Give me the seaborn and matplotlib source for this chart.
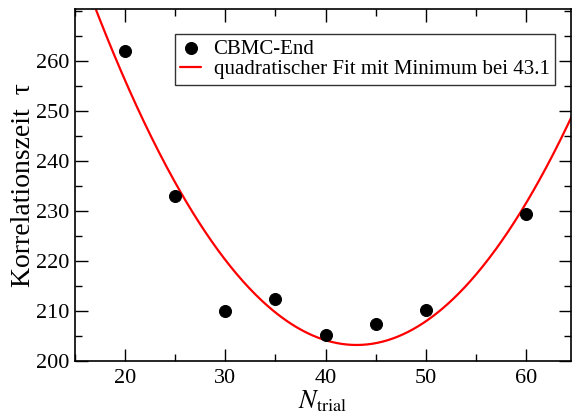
import numpy as np
import pandas as pd
import matplotlib
matplotlib.use("Agg")
import matplotlib.pyplot as plt
import seaborn as sns
from matplotlib.ticker import MultipleLocator, FixedLocator

# data
n_trial = [20, 25, 30, 35, 40, 45, 50, 60]
tau = [262.0, 233.0, 210.0, 212.3, 205.1, 207.4, 210.1, 229.3]
x_ticks = [20, 30, 40, 50, 60]
y_ticks = [200, 210, 220, 230, 240, 250, 260]
# quadratic fit parameters: tau = a*(N - N_min)^2 + tau_min
fit_a = 0.099
fit_nmin = 43.1
fit_taumin = 203.2

sns.set_theme(style="ticks")
plt.rcParams['font.family'] = ['Liberation Serif', 'DejaVu Serif']
plt.rcParams['mathtext.fontset'] = 'stix'
for k in ['text.color', 'axes.labelcolor', 'xtick.color', 'ytick.color',
          'xtick.labelcolor', 'ytick.labelcolor', 'axes.edgecolor']:
    plt.rcParams[k] = 'black'

fig = plt.figure(figsize=(5.72, 4.17), dpi=100)
ax = fig.add_axes([75/572, 1 - 361/417, (571-75)/572, (361-9)/417])

df = pd.DataFrame({"N": n_trial, "tau": tau})
xf = np.linspace(15, 65, 400)
df_fit = pd.DataFrame({"N": xf, "tau": fit_a * (xf - fit_nmin) ** 2 + fit_taumin})

sns.lineplot(data=df_fit, x="N", y="tau", ax=ax, color="#ff0000", lw=1.6,
             label="quadratischer Fit mit Minimum bei 43.1", zorder=2)
sns.scatterplot(data=df, x="N", y="tau", ax=ax, color="black", s=75,
                edgecolor="black", label="CBMC-End", zorder=3)

ax.set_xlim(15, 64.5)
ax.set_ylim(200, 270.3)
ax.xaxis.set_major_locator(FixedLocator(x_ticks))
ax.xaxis.set_minor_locator(MultipleLocator(5))
ax.yaxis.set_major_locator(FixedLocator(y_ticks))
ax.yaxis.set_minor_locator(MultipleLocator(5))
ax.tick_params(which='both', direction='in', top=True, right=True,
               labelsize=16, width=1, color='black', labelcolor='black')
ax.tick_params(axis='x', pad=6)
ax.tick_params(axis='y', pad=4)
ax.tick_params(which='major', length=9)
ax.tick_params(which='minor', length=5)
for s in ax.spines.values():
    s.set_linewidth(1.2)
    s.set_color('black')

ax.set_xlabel(r"$N_{\mathrm{trial}}$", fontsize=19, labelpad=0, color='black')
ax.set_ylabel("Korrelationszeit  τ", fontsize=20, labelpad=0, color='black')

handles, labels = ax.get_legend_handles_labels()
order = [1, 0]
leg = ax.legend([handles[i] for i in order], [labels[i] for i in order],
                loc='upper left', bbox_to_anchor=((175-75)/496, 1 - (34-9)/352),
                fontsize=15, frameon=True, fancybox=False, edgecolor='black',
                borderpad=0.25, handlelength=1.0, handletextpad=0.6,
                labelspacing=0.05, borderaxespad=0, labelcolor='black')
leg.get_frame().set_linewidth(1.0)

fig.savefig("out.png", dpi=100)
